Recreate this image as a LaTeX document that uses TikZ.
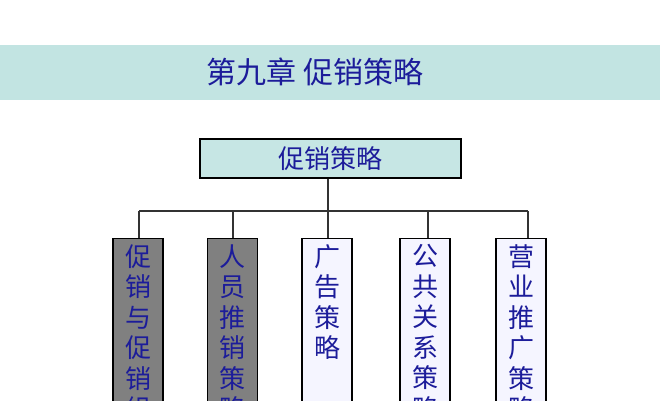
\documentclass[tikz,border=0pt]{standalone}
\usepackage{fontspec}
\newfontfamily\cjk{Noto Sans CJK SC}
\definecolor{band}{HTML}{C2E4E2}
\definecolor{topfill}{HTML}{C6E6E4}
\definecolor{ink}{HTML}{1C1C9A}
\begin{document}
\begin{tikzpicture}[x=1pt,y=-1pt,
  txt/.style={text=ink,font=\cjk},
  vbox/.style={draw=black,line width=1.2pt,minimum width=50pt,minimum height=200pt,anchor=north,inner sep=0pt},
  vtext/.style={txt,anchor=north,align=center,font=\cjk\fontsize{26}{30.5}\selectfont},
  conn/.style={line width=1.2pt,draw=black!80}]
\useasboundingbox (0,0) rectangle (667,400);
\fill[band] (0,45) rectangle (660,100);
\node[txt,font=\cjk\fontsize{30}{32}\selectfont] (title) at (315,72) {第九章 促销策略};
\node[draw=black,line width=1.2pt,fill=topfill,minimum width=261pt,minimum height=39pt,inner sep=0pt,txt,font=\cjk\fontsize{26}{30}\selectfont] (top) at (330.5,158.5) {促销策略};
\node[vbox,fill=gray] (b1) at (138,238) {};
\node[vbox,fill=gray] (b2) at (232.5,238) {};
\node[vbox,fill=blue!4] (b3) at (327,238) {};
\node[vbox,fill=blue!4] (b4) at (425,238) {};
\node[vbox,fill=blue!4] (b5) at (521,238) {};
\node[vtext] (t1) at (138,241) {促\\销\\与\\促\\销\\组\\合};
\node[vtext] (t2) at (232.5,241) {人\\员\\推\\销\\策\\略};
\node[vtext] (t3) at (327,241) {广\\告\\策\\略};
\node[vtext] (t4) at (425,241) {公\\共\\关\\系\\策\\略};
\node[vtext] (t5) at (521,241) {营\\业\\推\\广\\策\\略};
\coordinate (j) at (328,211);
\draw[conn] (top.south -| j) -- (j |- b3.north);
\draw[conn] (139,211) coordinate (l) -- (528,211) coordinate (r);
\draw[conn] (l) -- (l |- b1.north);
\draw[conn] (233,211) -- (233,238);
\draw[conn] (428,211) -- (428,238);
\draw[conn] (r) -- (r |- b5.north);
\end{tikzpicture}
\end{document}
